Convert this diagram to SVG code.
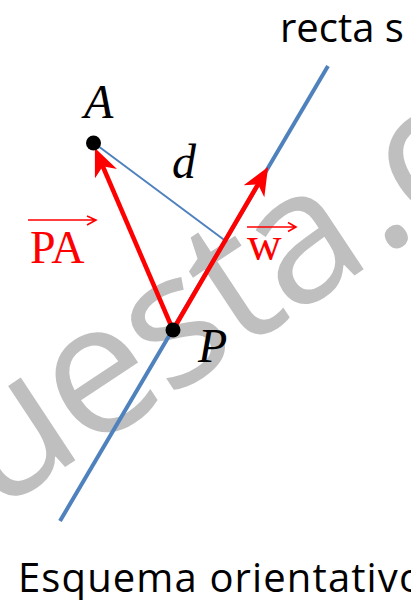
<svg xmlns="http://www.w3.org/2000/svg" width="411" height="600" viewBox="0 0 411 600">
  <style>
    .wm { font-family: "Open Sans", "DejaVu Sans", sans-serif; fill: #BFBFBF; letter-spacing: -4px; }
    .lbl { font-family: "Open Sans", "Liberation Sans", sans-serif; fill: #000; }
    .math { font-family: "Liberation Serif", "DejaVu Serif", serif; font-style: italic; fill: #000; }
    .vec { font-family: "Liberation Serif", "DejaVu Serif", serif; fill: #FF0000; }
    .line-s { stroke: #4F81BD; stroke-width: 4; fill: none; }
    .dist { stroke: #4F81BD; stroke-width: 2; fill: none; }
    .red { stroke: #FF0000; stroke-width: 4.5; fill: none; marker-end: url(#head); }
    .over { stroke: #FF0000; stroke-width: 1.6; fill: none; }
    .dot { fill: #000; }
  </style>
  <defs>
    <marker id="head" markerUnits="userSpaceOnUse" viewBox="0 0 28 24" refX="10" refY="12" markerWidth="28" markerHeight="24" orient="auto">
      <path d="M28,12 L0,0 L8,12 L0,24 Z" fill="#FF0000"/>
    </marker>
  </defs>
  <rect width="411" height="600" fill="#FFFFFF"/>

  <g id="watermark">
    <text class="wm" font-size="185" transform="translate(-6,514) rotate(-33.5)">uesta<tspan dx="10">.c</tspan></text>
  </g>

  <g id="connectors">
    <line id="recta-s" class="line-s" x1="60" y1="521" x2="328" y2="66"/>
    <line id="distance-d" class="dist" x1="94" y1="143" x2="227" y2="242"/>
    <line id="vec-PA" class="red" x1="173" y1="330" x2="102" y2="164.5"/>
    <line id="vec-w" class="red" x1="173" y1="330" x2="259" y2="182.6"/>
  </g>

  <g id="node-A">
    <circle class="dot" cx="93.5" cy="143" r="7.5"/>
    <text class="math" x="84" y="118" font-size="48">A</text>
  </g>
  <g id="node-P">
    <circle class="dot" cx="173" cy="330" r="7.5"/>
    <text class="math" x="198" y="362" font-size="48">P</text>
  </g>
  <g id="label-d">
    <text class="math" x="172" y="178" font-size="48">d</text>
  </g>
  <g id="label-PA">
    <text class="vec" x="30" y="263" font-size="46">PA</text>
    <path class="over" d="M28,220 H96 M87,216 L96,220 L87,225"/>
  </g>
  <g id="label-w">
    <text class="vec" x="247" y="260" font-size="48">w</text>
    <path class="over" d="M247,227 H296 M288,222.5 L296,227 L288,231.5"/>
  </g>
  <g id="label-recta">
    <text class="lbl" x="280" y="42" font-size="40">recta s</text>
  </g>
  <g id="caption">
    <text class="lbl" x="18" y="592" font-size="40" textLength="405" lengthAdjust="spacing">Esquema orientativo</text>
  </g>
</svg>
